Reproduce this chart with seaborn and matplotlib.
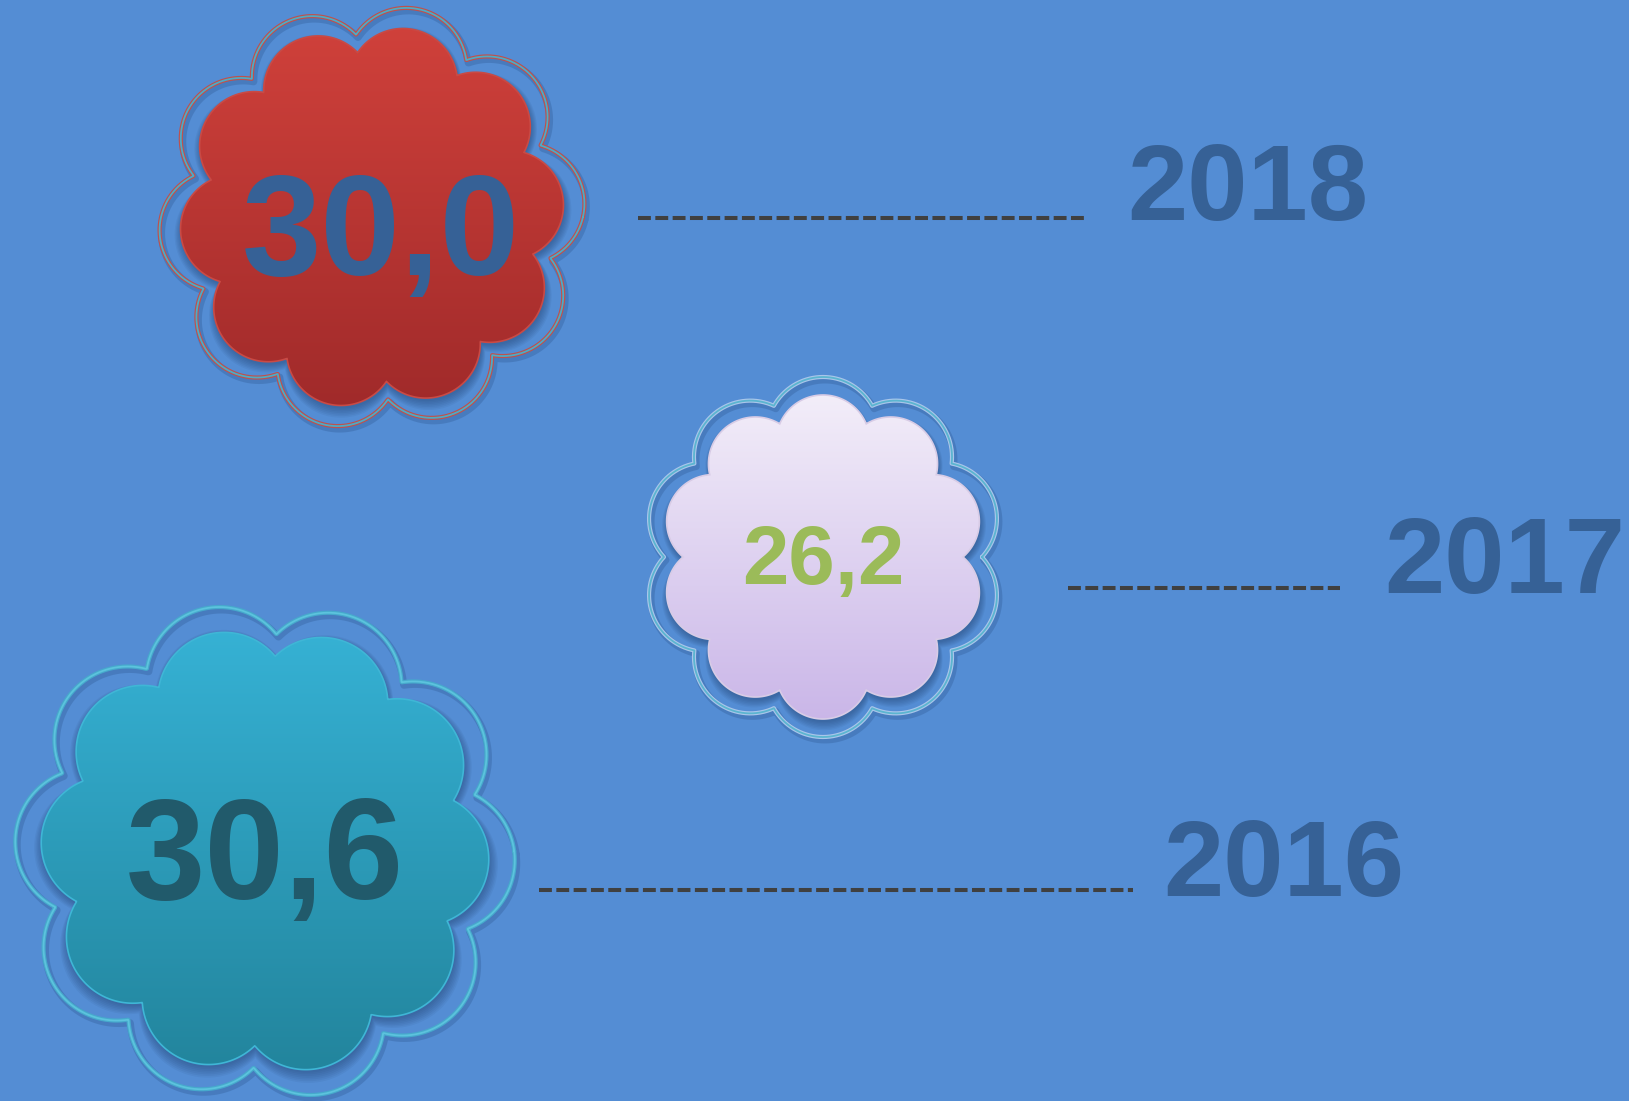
import numpy as np
import pandas as pd
import matplotlib
matplotlib.use("Agg")
import matplotlib.pyplot as plt
from matplotlib.patches import Polygon
from matplotlib.colors import to_rgb
import seaborn as sns

# ---------------- data ----------------
years = ["2018", "2017", "2016"]
values = [30.0, 26.2, 30.6]
value_labels = [f"{v:.1f}".replace(".", ",") for v in values]

# ---------------- layout (pixel space) ----------------
W, H = 1629, 1101
centers = [(372, 217), (823, 557), (265, 851)]
inner_R = [(192, 165), (162, 140), (224, 195)]      # (petal tip, notch)
outer_R = [(213, 183), (180, 159), (250, 217)]
rot_deg = [95, 108, 87]
label_pos = [(381, 275), (823, 584), (265, 899)]
label_size = [103, 60, 103]
label_color = ["#366196", "#9BBB59", "#215A6B"]
fill_top = ["#D0413B", "#F3EEF9", "#36B2D5"]
fill_bot = ["#A02A2A", "#CAB6E8", "#22849C"]
fill_edge = ["#C94A45", "#D8CCE6", "#3FB6D6"]
out_edge = ["#C0504D", "#A9C6EA", "#46A9CC"]
out_core = ["#4BACC6", "#5BB5D0", "#5CC3DD"]
year_pos = [(1248, 220), (1505, 593), (1284, 896)]
line_x = [(638, 1088), (1068, 1340), (539, 1133)]
line_y = [218, 588, 890]

BG = "#548DD4"
YEAR_COLOR = "#366196"

sns.set_theme(style="white")
plt.rcParams["font.family"] = ["Liberation Sans", "DejaVu Sans"]

fig = plt.figure(figsize=(W / 100, H / 100), dpi=100)
fig.patch.set_facecolor(BG)
ax = fig.add_axes([0, 0, 1, 1])
ax.set_facecolor(BG)


def scallop(cx, cy, Rp, Rn, n, theta0_deg, npts=2000):
    a = np.pi / n
    lo, hi = 1.0, Rp - 1.0
    for _ in range(80):
        p = 0.5 * (lo + hi)
        d = Rp - p
        s = p * p - (d * np.sin(a)) ** 2
        rn = d * np.cos(a) + np.sqrt(max(s, 0))
        if rn < Rn:
            lo = p
        else:
            hi = p
    d = Rp - p
    th = np.linspace(0, 2 * np.pi, npts, endpoint=False)
    t0 = np.deg2rad(theta0_deg)
    r = np.zeros_like(th)
    for k in range(n):
        phi = t0 + a + 2 * np.pi * k / n
        dl = (th - phi + np.pi) % (2 * np.pi) - np.pi
        s = p * p - (d * np.sin(dl)) ** 2
        rk = np.where((s >= 0) & (np.cos(dl) > 0), d * np.cos(dl) + np.sqrt(np.clip(s, 0, None)), 0)
        r = np.maximum(r, rk)
    x = cx + r * np.cos(th)
    y = cy - r * np.sin(th)
    return np.column_stack([x, y])


for i in range(len(values)):
    cx, cy = centers[i]
    # outer outline
    op = scallop(cx, cy, outer_R[i][0], outer_R[i][1], 10, rot_deg[i])
    opc = np.vstack([op, op[:1]])
    ax.plot(opc[:, 0] + 2, opc[:, 1] + 3, color="#2B548C", lw=5, alpha=0.30, zorder=2,
            solid_joinstyle="round")
    ax.plot(opc[:, 0], opc[:, 1], color=out_edge[i], lw=3.0, zorder=3, solid_joinstyle="round")
    ax.plot(opc[:, 0], opc[:, 1], color=out_core[i], lw=1.3, zorder=3.1, solid_joinstyle="round")

    # inner flower shadow
    ip = scallop(cx, cy, inner_R[i][0], inner_R[i][1], 10, rot_deg[i])
    for k in range(7):
        sc = 1.0 + 0.006 * k
        pts = np.column_stack([cx + (ip[:, 0] - cx) * sc + 1, cy + (ip[:, 1] - cy) * sc + 3 + k * 0.4])
        ax.add_patch(Polygon(pts, closed=True, facecolor="#1C3A66", edgecolor="none",
                             alpha=0.07, zorder=4))

    # inner flower gradient fill
    Rp = inner_R[i][0]
    c1 = np.array(to_rgb(fill_top[i]))
    c2 = np.array(to_rgb(fill_bot[i]))
    tt = np.linspace(0, 1, 256)[:, None]
    grad = (c1[None, :] * (1 - tt) + c2[None, :] * tt)[:, None, :]
    im = ax.imshow(grad, extent=(cx - Rp - 2, cx + Rp + 2, cy + Rp + 2, cy - Rp - 2),
                   origin="upper", aspect="auto", zorder=5, interpolation="bilinear")
    patch = Polygon(ip, closed=True, facecolor="none", edgecolor=fill_edge[i], lw=1.2, zorder=5.5)
    ax.add_patch(patch)
    im.set_clip_path(patch)

    # value label
    ax.text(label_pos[i][0], label_pos[i][1], value_labels[i], ha="center", va="baseline",
            fontsize=label_size[i], fontweight="bold", color=label_color[i], zorder=6)

# dashed connectors and year labels
conn = pd.DataFrame({
    "x": [v for xs in line_x for v in xs],
    "y": [line_y[i] for i in range(len(years)) for _ in range(2)],
    "year": [years[i] for i in range(len(years)) for _ in range(2)],
})
for yr in years:
    sub = conn[conn["year"] == yr]
    sns.lineplot(data=sub, x="x", y="y", ax=ax, color="#404040", lw=2.9,
                 linestyle=(0, (3.2, 1.1)), zorder=6, legend=False, sort=False)

for i, yr in enumerate(years):
    ax.text(year_pos[i][0], year_pos[i][1], yr, ha="center", va="baseline",
            fontsize=78, fontweight="bold", color=YEAR_COLOR, zorder=6)

ax.set_xlim(0, W)
ax.set_ylim(H, 0)
ax.set_xlabel("")
ax.set_ylabel("")
ax.axis("off")

fig.savefig("out.png", dpi=100, facecolor=BG)
